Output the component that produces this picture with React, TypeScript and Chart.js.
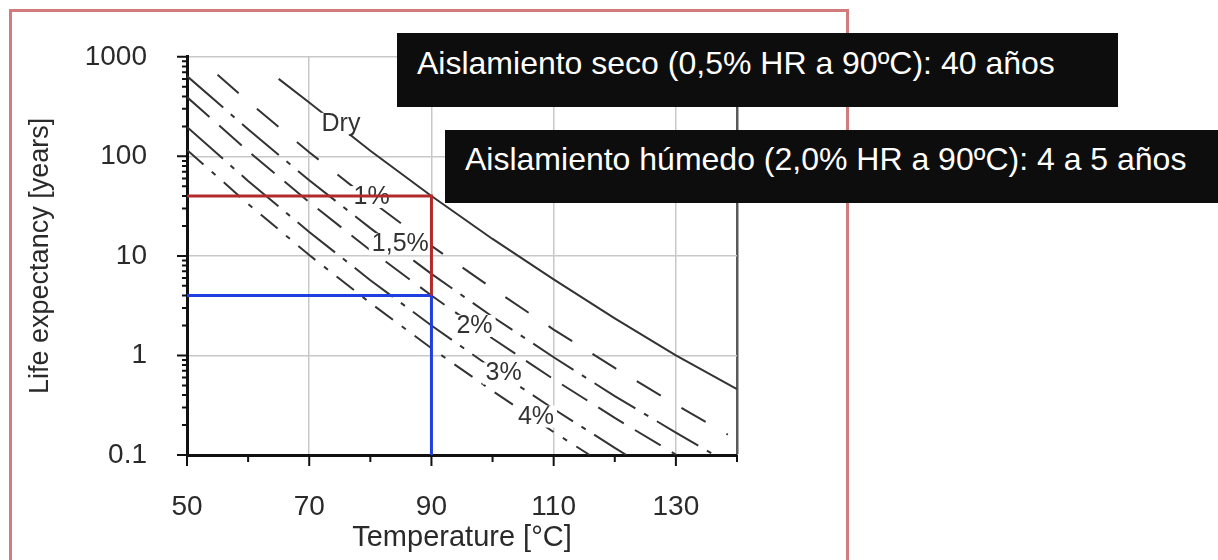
import React, { useEffect, useRef } from 'react';
import { Chart, registerables } from 'chart.js';

Chart.register(...registerables);

const FONT = "'Liberation Sans', Arial, Helvetica, sans-serif";

// Axis ticks
const yTickValues = [0.1, 1, 10, 100, 1000];
const yTickLabels = ['0.1', '1', '10', '100', '1000'];
const xGridValues = [50, 70, 90, 110, 130, 140];
const xTickValues = [50, 70, 90, 110, 130];
const xTickLabels = ['50', '70', '90', '110', '130'];
const xMinorTicks = [60, 80, 100, 120, 140];

// Series: life expectancy [years] vs temperature [°C]
const dryTemp = [65, 70, 80, 90, 100, 110, 120, 130, 140];
const dryLife = [600, 347, 114, 40, 14.8, 5.8, 2.36, 1.0, 0.46];

const rh1Temp = [55, 60, 70, 80, 90, 100, 110, 120, 130, 138.5];
const rh1Life = [660, 356, 110, 36, 12.6, 4.7, 1.82, 0.75, 0.32, 0.16];

const rh15Temp = [50, 60, 70, 80, 90, 100, 110, 120, 130, 136.3];
const rh15Life = [640, 187, 57.5, 19, 6.6, 2.45, 0.96, 0.39, 0.168, 0.1];

const rh2Temp = [50, 60, 70, 80, 90, 100, 110, 120, 130.1];
const rh2Life = [394, 113, 34.7, 11.4, 4.0, 1.48, 0.577, 0.236, 0.1];

const rh3Temp = [50, 60, 70, 80, 90, 100, 110, 120, 121.9];
const rh3Life = [197, 56.5, 17.4, 5.7, 2.0, 0.74, 0.29, 0.118, 0.1];

const rh4Temp = [50, 60, 70, 80, 90, 100, 110, 115.9];
const rh4Life = [116, 33.3, 10.2, 3.37, 1.18, 0.44, 0.17, 0.1];

// Reference lines (90 °C)
const refDryTemp = [50, 90, 90];
const refDryLife = [40, 40, 4];
const refWetTemp = [50, 90, 90];
const refWetLife = [4, 4, 0.1];

// In-plot curve labels
const labelText = ['Dry', '1%', '1,5%', '2%', '3%', '4%'];
const labelTemp = [75.2, 80.2, 84.9, 97.05, 101.8, 107.1];
const labelLife = [212, 39, 13.1, 1.98, 0.66, 0.243];

const pts = (t: number[], v: number[]) => t.map((x, i) => ({ x, y: v[i] }));

const decorPlugin = {
  id: 'decor',
  afterDatasetDraw(chart: any, args: any) {
    if (args.index !== 2) return; // after the "Dry" curve (last black curve drawn)
    const ctx = chart.ctx;
    const xs = chart.scales.x;
    const ys = chart.scales.y;
    ctx.save();
    ctx.font = `25px ${FONT}`;
    ctx.textAlign = 'center';
    ctx.textBaseline = 'middle';
    labelText.forEach((t, i) => {
      const px = xs.getPixelForValue(labelTemp[i]);
      const py = ys.getPixelForValue(labelLife[i]);
      const w = ctx.measureText(t).width;
      ctx.fillStyle = '#ffffff';
      ctx.fillRect(px - w / 2 - 3, py - 11, w + 6, 22);
      ctx.fillStyle = '#333333';
      ctx.fillText(t, px, py);
    });
    ctx.restore();
  },
  afterDraw(chart: any) {
    const ctx = chart.ctx;
    const xs = chart.scales.x;
    const ys = chart.scales.y;
    const { left, bottom } = chart.chartArea;
    ctx.save();
    ctx.strokeStyle = '#111111';
    ctx.lineWidth = 2;
    ctx.beginPath();
    for (let e = -1; e <= 3; e++) {
      const base = Math.pow(10, e);
      const py = ys.getPixelForValue(base);
      ctx.moveTo(left - 10, py);
      ctx.lineTo(left, py);
      if (e < 3) {
        for (let m = 2; m <= 9; m++) {
          const p = ys.getPixelForValue(base * m);
          ctx.moveTo(left - 5, p);
          ctx.lineTo(left, p);
        }
      }
    }
    xTickValues.forEach((v) => {
      const px = xs.getPixelForValue(v);
      ctx.moveTo(px, bottom);
      ctx.lineTo(px, bottom + 11);
    });
    xMinorTicks.forEach((v) => {
      const px = xs.getPixelForValue(v);
      ctx.moveTo(px, bottom);
      ctx.lineTo(px, bottom + 7);
    });
    ctx.stroke();
    ctx.restore();
  },
};

export default function App() {
  const ref = useRef<HTMLCanvasElement>(null);

  useEffect(() => {
    document.body.style.margin = '0';
    document.documentElement.style.overflow = 'hidden';
    document.body.style.overflow = 'hidden';
    const curve = (label: string, t: number[], v: number[], dash: number[]) => ({
      label,
      data: pts(t, v),
      borderColor: '#333333',
      borderWidth: 2,
      borderDash: dash,
      pointRadius: 0,
      tension: 0,
      fill: false,
      order: 1,
    });
    const chart = new Chart(ref.current as HTMLCanvasElement, {
      type: 'line',
      data: {
        datasets: [
          { label: 'ref40', data: pts(refDryTemp, refDryLife), borderColor: '#b32a2a', borderWidth: 3, pointRadius: 0, fill: false, order: 0 },
          { label: 'ref4', data: pts(refWetTemp, refWetLife), borderColor: '#1f3fe0', borderWidth: 3, pointRadius: 0, fill: false, order: 0 },
          curve('Dry', dryTemp, dryLife, []),
          curve('1%', rh1Temp, rh1Life, [28, 24]),
          curve('1,5%', rh15Temp, rh15Life, [48, 10, 5, 10]),
          curve('2%', rh2Temp, rh2Life, [30, 13]),
          curve('3%', rh3Temp, rh3Life, [48, 10, 5, 10]),
          curve('4%', rh4Temp, rh4Life, [22, 11, 5, 11]),
        ] as any,
      },
      options: {
        animation: false,
        responsive: false,
        devicePixelRatio: 1,
        layout: { padding: { left: 0, top: 52, right: 113, bottom: 0 } },
        plugins: { legend: { display: false }, tooltip: { enabled: false } },
        scales: {
          x: {
            type: 'linear',
            min: 50,
            max: 140,
            afterFit: (s: any) => { s.height = 105; },
            afterBuildTicks: (s: any) => { s.ticks = xGridValues.map((v) => ({ value: v })); },
            ticks: {
              autoSkip: false,
              maxRotation: 0,
              padding: 35,
              color: '#2a2a2a',
              font: { family: FONT, size: 28 },
              callback: (v: any) => {
                const i = xTickValues.indexOf(Number(v));
                return i >= 0 ? xTickLabels[i] : '';
              },
            },
            grid: {
              drawTicks: false,
              color: (c: any) => (c.tick && c.tick.value === 140 ? '#5a5a5a' : '#c8c8c8'),
              lineWidth: (c: any) => (c.tick && c.tick.value === 140 ? 2.5 : 1.5),
            },
            border: { display: true, color: '#111111', width: 3 },
            title: {
              display: true,
              text: 'Temperature [°C]',
              color: '#2a2a2a',
              font: { family: FONT, size: 29 },
              padding: { top: 0, bottom: 5 },
            },
          },
          y: {
            type: 'logarithmic',
            min: 0.1,
            max: 1000,
            afterFit: (s: any) => { s.width = 187; },
            afterBuildTicks: (s: any) => { s.ticks = yTickValues.map((v) => ({ value: v })); },
            ticks: {
              autoSkip: false,
              padding: 40,
              color: '#2a2a2a',
              font: { family: FONT, size: 28 },
              callback: (_v: any, i: number) => yTickLabels[i],
            },
            grid: { drawTicks: false, color: '#c8c8c8', lineWidth: 1.5 },
            border: { display: true, color: '#111111', width: 3 },
            title: {
              display: true,
              text: 'Life expectancy [years]',
              color: '#2a2a2a',
              font: { family: FONT, size: 27 },
              padding: { top: 24, bottom: 0 },
            },
          },
        },
      } as any,
      plugins: [decorPlugin as any],
    });
    return () => chart.destroy();
  }, []);

  const boxText: React.CSSProperties = {
    position: 'absolute',
    background: '#0d0d0d',
    color: '#ffffff',
    fontFamily: FONT,
    fontSize: 32,
    paddingLeft: 20,
    boxSizing: 'border-box',
    whiteSpace: 'nowrap',
  };

  return (
    <div style={{ position: 'relative', width: 1218, height: 560, overflow: 'hidden', background: '#ffffff' }}>
      <div
        style={{
          position: 'absolute',
          left: 9,
          top: 9,
          width: 840,
          height: 600,
          border: '3px solid #d27b7b',
          boxSizing: 'border-box',
        }}
      />
      <canvas ref={ref} width={850} height={560} style={{ position: 'absolute', left: 0, top: 0 }} />
      <div style={{ ...boxText, left: 397, top: 33, width: 721, height: 74, lineHeight: '60px' }}>
        Aislamiento seco (0,5% HR a 90ºC): 40 años
      </div>
      <div style={{ ...boxText, left: 445, top: 130, width: 773, height: 73, lineHeight: '58px' }}>
        Aislamiento húmedo (2,0% HR a 90ºC): 4 a 5 años
      </div>
    </div>
  );
}
